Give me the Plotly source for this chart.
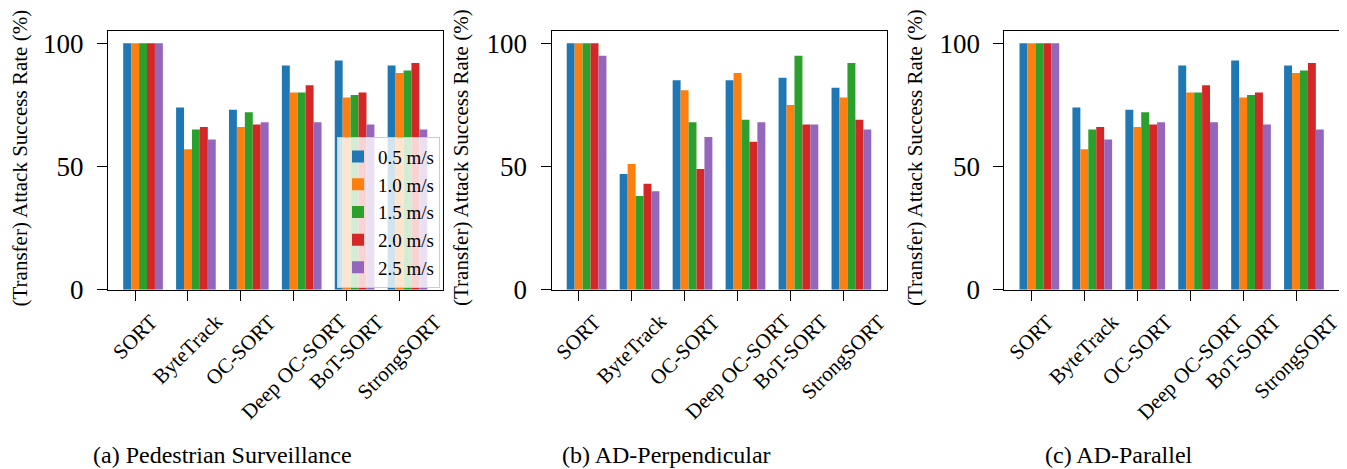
import plotly.graph_objects as go

categories = ["SORT", "ByteTrack", "OC-SORT", "Deep OC-SORT", "BoT-SORT", "StrongSORT"]
speeds = ["0.5 m/s", "1.0 m/s", "1.5 m/s", "2.0 m/s", "2.5 m/s"]
colors = ["#1f77b4", "#ff7f0e", "#2ca02c", "#d62728", "#9467bd"]

# Values per speed (rows) for each tracker (columns)
ped_surv = [
    [100, 74, 73, 91, 93, 91],
    [100, 57, 66, 80, 78, 88],
    [100, 65, 72, 80, 79, 89],
    [100, 66, 67, 83, 80, 92],
    [100, 61, 68, 68, 67, 65],
]
ad_perp = [
    [100, 47, 85, 85, 86, 82],
    [100, 51, 81, 88, 75, 78],
    [100, 38, 68, 69, 95, 92],
    [100, 43, 49, 60, 67, 69],
    [95, 40, 62, 68, 67, 65],
]
ad_par = [
    [100, 74, 73, 91, 93, 91],
    [100, 57, 66, 80, 78, 88],
    [100, 65, 72, 80, 79, 89],
    [100, 66, 67, 83, 80, 92],
    [100, 61, 68, 68, 67, 65],
]
captions = ["(a) Pedestrian Surveillance", "(b) AD-Perpendicular", "(c) AD-Parallel"]
y_title = "(Transfer) Attack Success Rate (%)"
y_ticks = [0, 50, 100]

# page body has an 8px margin; the figure fills the rest of the window
OFF = 8
W, H = 1347 - OFF, 469 - OFF


def px(xp):
    return (xp - OFF) / W


def py(yp):
    return 1 - (yp - OFF) / H


panels = [ped_surv, ad_perp, ad_par]
x_domains_px = [(108, 442.5), (551.5, 886.5), (1004.3, 1339)]
y_top_px, y_bot_px = 31, 289.7
caption_cx_px = [222, 666, 1119]
ytitle_cx_px = [19.5, 461, 915]

SERIF = "Liberation Serif"
idx = list(range(len(categories)))
bar_w = 0.15
tick_pos = [i - bar_w for i in idx]

fig = go.Figure()
for p, data in enumerate(panels):
    suffix = "" if p == 0 else str(p + 1)
    for s, vals in enumerate(data):
        fig.add_trace(go.Bar(
            x=idx, y=vals, name=speeds[s],
            marker=dict(color=colors[s], line=dict(width=0)),
            showlegend=(p == 0), legendgroup=speeds[s],
            xaxis="x" + suffix, yaxis="y" + suffix,
        ))

layout = dict(
    width=W, height=H,
    margin=dict(l=0, r=0, t=0, b=0, autoexpand=False),
    paper_bgcolor="white", plot_bgcolor="white",
    barmode="group", bargap=0.25, bargroupgap=0,
    font=dict(family=SERIF, color="black"),
    legend=dict(
        x=px(337), y=py(136.7), xanchor="left", yanchor="top",
        bgcolor="rgba(255,255,255,0.8)", bordercolor="#cccccc", borderwidth=1,
        font=dict(family=SERIF, size=19, color="black"),
        itemwidth=30, tracegroupgap=0,
    ),
    annotations=[],
)
for p in range(3):
    suffix = "" if p == 0 else str(p + 1)
    x0, x1 = x_domains_px[p]
    layout["xaxis" + suffix] = dict(
        domain=[px(x0), px(x1)], anchor="y" + suffix, automargin=False,
        range=[-0.6625, 5.6625],
        tickmode="array", tickvals=tick_pos, showticklabels=False,
        ticks="outside", ticklen=10, tickwidth=1, tickcolor="black",
        showline=True, linecolor="black", linewidth=1, mirror=True,
        showgrid=False, zeroline=False,
    )
    layout["yaxis" + suffix] = dict(
        domain=[py(y_bot_px), py(y_top_px)], anchor="x" + suffix, automargin=False,
        range=[0, 105],
        tickmode="array", tickvals=y_ticks, ticktext=[str(v) for v in y_ticks],
        ticks="outside", ticklen=10, tickwidth=1, tickcolor="black",
        showline=True, linecolor="black", linewidth=1, mirror=True,
        showgrid=False, zeroline=False,
        tickfont=dict(family=SERIF, size=27, color="black"),
        ticklabelstandoff=8,
    )
    # rotated category labels, centred under each tick (matplotlib style)
    for xv, name in zip(tick_pos, categories):
        layout["annotations"].append(dict(
            text=name, x=xv, y=py(307), xref="x" + suffix, yref="paper",
            xanchor="center", yanchor="top", textangle=-45, showarrow=False,
            font=dict(family=SERIF, size=21, color="black"),
        ))
    layout["annotations"].append(dict(
        text=captions[p], x=px(caption_cx_px[p]), y=py(455),
        xref="paper", yref="paper", xanchor="center", yanchor="middle",
        showarrow=False, font=dict(family=SERIF, size=24, color="black"),
    ))
    layout["annotations"].append(dict(
        text=y_title, x=px(ytitle_cx_px[p]), y=py(158),
        xref="paper", yref="paper", xanchor="center", yanchor="middle",
        textangle=-90, showarrow=False,
        font=dict(family=SERIF, size=21, color="black"),
    ))

fig.update_layout(**layout)
fig.write_html("out.html")
